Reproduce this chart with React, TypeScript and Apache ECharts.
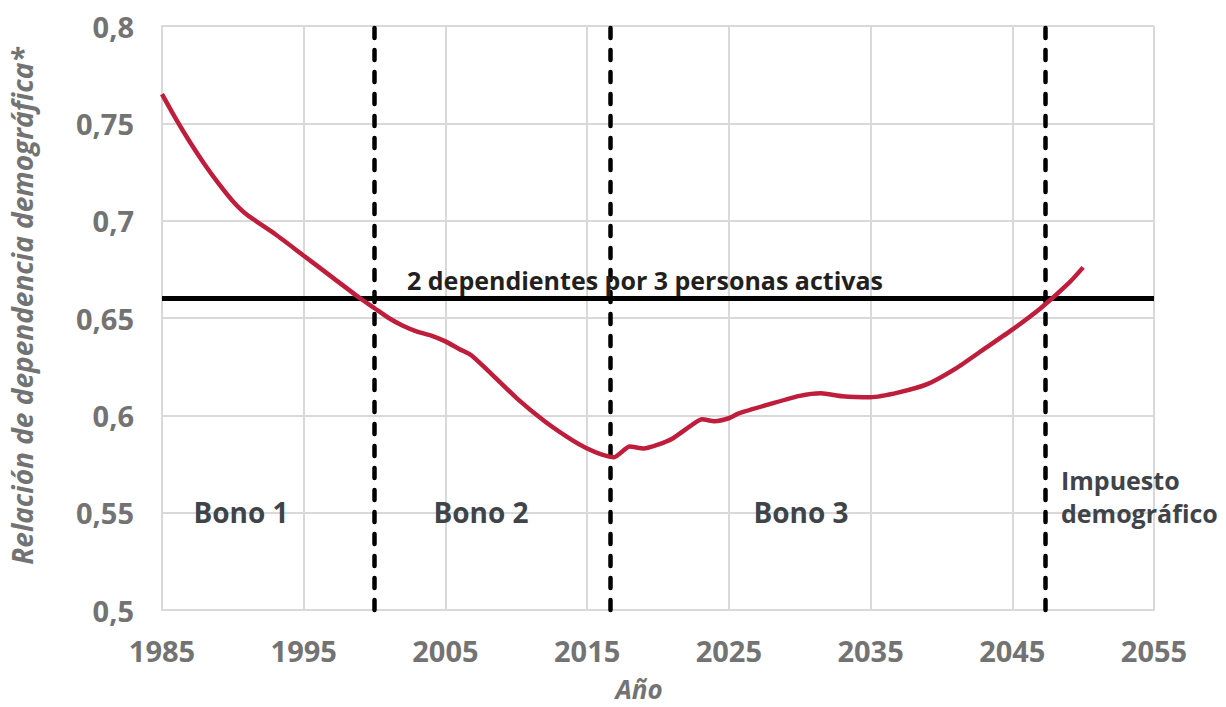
import React, { useEffect, useRef } from "react";
import * as echarts from "echarts";

const BASE_YEAR = 1985;
const years = [1985, 1986, 1987, 1988, 1989, 1990, 1991, 1993, 1995, 1997, 1999, 2000, 2001, 2002, 2003, 2004, 2005, 2006, 2006.8, 2008, 2010, 2012, 2014, 2015, 2016, 2016.9, 2018, 2019, 2020, 2021, 2022, 2023.1, 2024, 2025, 2025.7, 2028, 2030, 2031.5, 2033, 2035, 2037, 2039, 2041, 2043, 2045, 2047, 2049, 2050];
const ratio = [0.765, 0.752, 0.740, 0.729, 0.719, 0.710, 0.703, 0.693, 0.682, 0.671, 0.660, 0.655, 0.650, 0.646, 0.643, 0.641, 0.638, 0.634, 0.631, 0.623, 0.609, 0.597, 0.587, 0.583, 0.580, 0.5785, 0.584, 0.583, 0.585, 0.588, 0.593, 0.598, 0.597, 0.5985, 0.601, 0.606, 0.610, 0.6113, 0.6098, 0.6093, 0.6118, 0.616, 0.624, 0.634, 0.644, 0.655, 0.668, 0.676];
const threshold = 0.655;
const periodBreaks = [2000, 2016.6, 2047.3];
const xTickStart = 1985;
const xTickEnd = 2055;
const xTickStep = 10;
const yMin = 0.5;
const yMax = 0.8;
const yStep = 0.05;

export default function App() {
  const ref = useRef<HTMLDivElement>(null);
  useEffect(() => {
    if (!ref.current) return;
    const chart = echarts.init(ref.current, null, { renderer: "svg" });
    const font = "'Open Sans', 'Noto Sans', sans-serif";
    chart.setOption({
      animation: false,
      grid: { left: 158, right: 72, top: 26, bottom: 89 },
      xAxis: {
        type: "value",
        min: xTickStart - BASE_YEAR,
        max: xTickEnd - BASE_YEAR,
        interval: xTickStep,
        axisLine: { show: true, lineStyle: { color: "#d9d9d9", width: 2 } },
        axisTick: { show: false },
        splitLine: { show: true, lineStyle: { color: "#d9d9d9", width: 2 } },
        axisLabel: {
          formatter: (v: number) => String(v + BASE_YEAR),
          color: "#737373",
          fontFamily: font,
          fontWeight: "bold",
          fontSize: 29,
          margin: 26,
        },
        name: "Año",
        nameLocation: "middle",
        nameGap: 66,
        nameTextStyle: { color: "#737373", fontFamily: font, fontWeight: "bold", fontStyle: "italic", fontSize: 26, padding: [0, 38, 0, 0] },
      },
      yAxis: {
        type: "value",
        min: yMin,
        max: yMax,
        interval: yStep,
        axisLine: { show: true, lineStyle: { color: "#d9d9d9", width: 2 } },
        axisTick: { show: false },
        splitLine: { show: true, lineStyle: { color: "#d9d9d9", width: 2 } },
        axisLabel: {
          formatter: (v: number) => String(Math.round(v * 100) / 100).replace(".", ","),
          color: "#737373",
          fontFamily: font,
          fontWeight: "bold",
          fontSize: 29,
          margin: 28,
        },
        name: "Relación de dependencia demográfica*",
        nameLocation: "middle",
        nameGap: 126,
        nameTextStyle: { color: "#737373", fontFamily: font, fontWeight: "bold", fontStyle: "italic", fontSize: 28, padding: [0, 0, 0, 24] },
      },
      series: [
        {
          type: "line",
          data: years.map((y, i) => [y - BASE_YEAR, ratio[i]]),
          showSymbol: false,
          smooth: 0.2,
          lineStyle: { color: "#BE1E3C", width: 4.5 },
          z: 5,
          markLine: {
            silent: true,
            symbol: "none",
            label: { show: false },
            data: [
              ...periodBreaks.map((b) => ({
                xAxis: b - BASE_YEAR,
                lineStyle: { color: "#000", width: 4.5, type: [10, 12], cap: "round" },
              })),
              { yAxis: threshold, lineStyle: { color: "#000", width: 5, type: "solid" } },
            ],
          },
        },
      ],
      graphic: [
        { type: "text", x: 645, y: 280, style: { text: "2 dependientes por 3 personas activas", fill: "#231f20", font: `bold 25px ${font}`, align: "center", verticalAlign: "middle" }, z: 10 },
        { type: "text", x: 241, y: 512, style: { text: "Bono 1", fill: "#404448", font: `bold 28px ${font}`, align: "center", verticalAlign: "middle" }, z: 10 },
        { type: "text", x: 481, y: 512, style: { text: "Bono 2", fill: "#404448", font: `bold 28px ${font}`, align: "center", verticalAlign: "middle" }, z: 10 },
        { type: "text", x: 801, y: 512, style: { text: "Bono 3", fill: "#404448", font: `bold 28px ${font}`, align: "center", verticalAlign: "middle" }, z: 10 },
        { type: "text", x: 1061, y: 480, style: { text: "Impuesto", fill: "#404448", font: `bold 25px ${font}`, align: "left", verticalAlign: "middle" }, z: 10 },
        { type: "text", x: 1061, y: 513, style: { text: "demográfico", fill: "#404448", font: `bold 25px ${font}`, align: "left", verticalAlign: "middle" }, z: 10 },
      ],
    });
    return () => chart.dispose();
  }, []);
  return <div ref={ref} style={{ width: 1226, height: 707, position: "absolute", left: 0, top: 0 }} />;
}
